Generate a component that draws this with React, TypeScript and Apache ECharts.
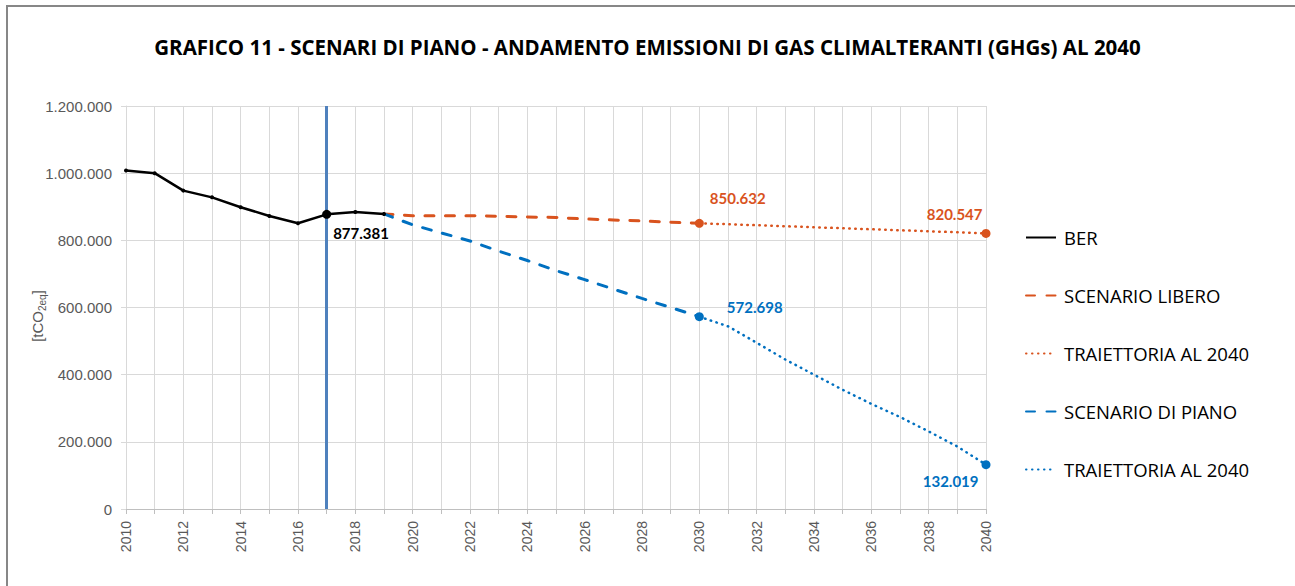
import React, { useEffect, useRef } from "react";
import * as echarts from "echarts";

const years = [
  "2010", "2011", "2012", "2013", "2014", "2015", "2016", "2017", "2018", "2019",
  "2020", "2021", "2022", "2023", "2024", "2025", "2026", "2027", "2028", "2029",
  "2030", "2031", "2032", "2033", "2034", "2035", "2036", "2037", "2038", "2039", "2040",
];

// BER 2010-2019
const berStart = "2010";
const berValues = [1008000, 1000000, 948000, 928000, 898500, 872500, 851000, 877381, 884500, 878500];

// Scenario libero 2019-2030
const liberoStart = "2019";
const liberoValues = [878500, 873400, 873400, 873400, 871600, 869600, 868000, 863600, 860600, 857700, 853800, 850632];

// Traiettoria (libero) 2030-2040
const liberoTrajStart = "2030";
const liberoTrajValues = [850632, 848000, 845000, 842000, 839000, 836000, 833000, 830000, 827000, 824000, 820547];

// Scenario di piano 2019-2030
const pianoStart = "2019";
const pianoValues = [878500, 846000, 822000, 798000, 768000, 740000, 710000, 683000, 655000, 627000, 600000, 572698];

// Traiettoria (piano) 2030-2040
const pianoTrajStart = "2030";
const pianoTrajValues = [572698, 544000, 495000, 445000, 400000, 355000, 313000, 274000, 231000, 186000, 132019];

const yTicks = { min: 0, max: 1200000, interval: 200000 };
const markYear = "2017";

const ORANGE = "#D9531E";
const BLUE = "#0070C0";
const LABEL_FONT = "Lato, 'Open Sans', sans-serif";
const TEXT_FONT = "'Open Sans', Lato, sans-serif";
const AXIS_FONT = "'Liberation Sans', Arial, sans-serif";

const fmt = (v: number) => String(Math.round(v)).replace(/\B(?=(\d{3})+(?!\d))/g, ".");

function pad(start: string, values: number[]) {
  const s = years.indexOf(start);
  return years.map((_, i) => (i >= s && i < s + values.length ? values[i - s] : null));
}

type Mark = { year: string; size: number; label?: any };

function build(start: string, values: number[], marks: Mark[], baseSymbol: string) {
  const arr = pad(start, values);
  return arr.map((v, i) => {
    if (v === null) return null;
    const m = marks.find((mk) => mk.year === years[i]);
    if (!m) return baseSymbol === "none" ? { value: v, symbol: "none" } : { value: v };
    return {
      value: v,
      symbol: "circle",
      symbolSize: m.size,
      label: m.label ? { show: true, ...m.label } : undefined,
    };
  });
}

const labelBase = {
  fontFamily: LABEL_FONT,
  fontWeight: "bold" as const,
  fontSize: 15,
  distance: 0,
  formatter: (p: any) => fmt(p.value),
};

export default function App() {
  const ref = useRef<HTMLDivElement>(null);
  useEffect(() => {
    if (!ref.current) return;
    const chart = echarts.init(ref.current, undefined, { renderer: "svg" });
    const dashed = [9, 11.5];
    const dotted = [0.5, 5.5];
    chart.setOption({
      animation: false,
      backgroundColor: "#ffffff",
      title: {
        text: "GRAFICO 11 - SCENARI DI PIANO - ANDAMENTO EMISSIONI DI GAS CLIMALTERANTI (GHGs) AL 2040",
        left: "center",
        top: 31,
        textStyle: { fontFamily: TEXT_FONT, fontWeight: "bold", fontSize: 20.5, color: "#000" },
      },
      graphic: [
        {
          type: "rect",
          shape: { x: 7, y: 6, width: 1400, height: 700 },
          style: { fill: "none", stroke: "#878787", lineWidth: 2 },
          silent: true,
        },
        {
          type: "text",
          x: 37,
          y: 316,
          rotation: Math.PI / 2,
          silent: true,
          style: {
            text: "{a|[tCO}{b|2eq}{a|]}",
            align: "center",
            verticalAlign: "middle",
            rich: {
              a: { fontFamily: AXIS_FONT, fontSize: 15, fill: "#595959", lineHeight: 20 },
              b: { fontFamily: AXIS_FONT, fontSize: 10, fill: "#595959", lineHeight: 20, verticalAlign: "bottom", padding: [6, 0, 0, 0] },
            },
          },
        },
      ],
      legend: {
        orient: "vertical",
        left: 1025,
        top: 228,
        padding: 0,
        itemWidth: 30,
        itemHeight: 14,
        itemGap: 39,
        formatter: (name: string) => name.split("|")[0],
        textStyle: { fontFamily: TEXT_FONT, fontSize: 18.5, lineHeight: 16, color: "#000", padding: [0, 0, 0, 3] },
        itemStyle: { opacity: 0 },
        data: ["BER", "SCENARIO LIBERO", "TRAIETTORIA AL 2040|L", "SCENARIO DI PIANO", "TRAIETTORIA AL 2040|P"],
      },
      grid: { left: 126, right: 309, top: 106, bottom: 77 },
      xAxis: {
        type: "category",
        data: years,
        boundaryGap: false,
        axisLine: { show: true, lineStyle: { color: "#bfbfbf", width: 1 } },
        axisTick: { show: true, interval: 0, length: 5, lineStyle: { color: "#bfbfbf" } },
        axisLabel: {
          interval: 1,
          rotate: 90,
          margin: 12,
          fontFamily: AXIS_FONT,
          fontSize: 14,
          color: "#595959",
        },
        splitLine: { show: true, interval: 0, lineStyle: { color: "#d9d9d9", width: 1 } },
      },
      yAxis: {
        type: "value",
        min: yTicks.min,
        max: yTicks.max,
        interval: yTicks.interval,
        axisLine: { show: true, lineStyle: { color: "#d9d9d9" } },
        axisTick: { show: true, length: 5, lineStyle: { color: "#d9d9d9" } },
        axisLabel: {
          margin: 14,
          fontFamily: AXIS_FONT,
          fontSize: 15,
          color: "#595959",
          formatter: (v: number) => fmt(v),
        },
        splitLine: { show: true, lineStyle: { color: "#d9d9d9", width: 1 } },
      },
      series: [
        {
          name: "SCENARIO LIBERO",
          type: "line",
          symbol: "none",
          showAllSymbol: true,
          z: 3,
          lineStyle: { color: ORANGE, width: 3, type: dashed, cap: "round" },
          itemStyle: { color: ORANGE },
          data: build(liberoStart, liberoValues, [
            { year: "2030", size: 9, label: { ...labelBase, color: ORANGE, position: "right", offset: [6, -25] } },
          ], "none"),
        },
        {
          name: "TRAIETTORIA AL 2040|L",
          type: "line",
          symbol: "none",
          showAllSymbol: true,
          z: 3,
          lineStyle: { color: ORANGE, width: 2.5, type: dotted, cap: "round" },
          itemStyle: { color: ORANGE },
          data: build(liberoTrajStart, liberoTrajValues, [
            { year: "2040", size: 9, label: { ...labelBase, color: ORANGE, position: "left", offset: [1, -19] } },
          ], "none"),
        },
        {
          name: "SCENARIO DI PIANO",
          type: "line",
          symbol: "none",
          showAllSymbol: true,
          z: 3,
          lineStyle: { color: BLUE, width: 3, type: dashed, cap: "round" },
          itemStyle: { color: BLUE },
          data: build(pianoStart, pianoValues, [
            { year: "2030", size: 9, label: { ...labelBase, color: BLUE, position: "right", offset: [23, -10] } },
          ], "none"),
        },
        {
          name: "TRAIETTORIA AL 2040|P",
          type: "line",
          symbol: "none",
          showAllSymbol: true,
          z: 3,
          lineStyle: { color: BLUE, width: 2.5, type: dotted, cap: "round" },
          itemStyle: { color: BLUE },
          data: build(pianoTrajStart, pianoTrajValues, [
            { year: "2040", size: 9, label: { ...labelBase, color: BLUE, position: "left", offset: [-3, 16] } },
          ], "none"),
        },
        {
          name: "BER",
          type: "line",
          symbol: "circle",
          symbolSize: 4,
          showAllSymbol: true,
          z: 4,
          lineStyle: { color: "#000", width: 2.5 },
          itemStyle: { color: "#000" },
          data: build(berStart, berValues, [
            { year: markYear, size: 9, label: { ...labelBase, color: "#000", position: "right", offset: [2, 19] } },
          ], "circle"),
          markLine: {
            silent: true,
            symbol: "none",
            label: { show: false },
            lineStyle: { color: "#4F81BD", width: 3, type: "solid" },
            data: [{ xAxis: markYear }],
            z: 2,
          },
        },
      ],
    });
    return () => chart.dispose();
  }, []);
  return (
    <div
      ref={ref}
      style={{ position: "fixed", left: 0, top: 0, width: 1295, height: 586, background: "#fff" }}
    />
  );
}
